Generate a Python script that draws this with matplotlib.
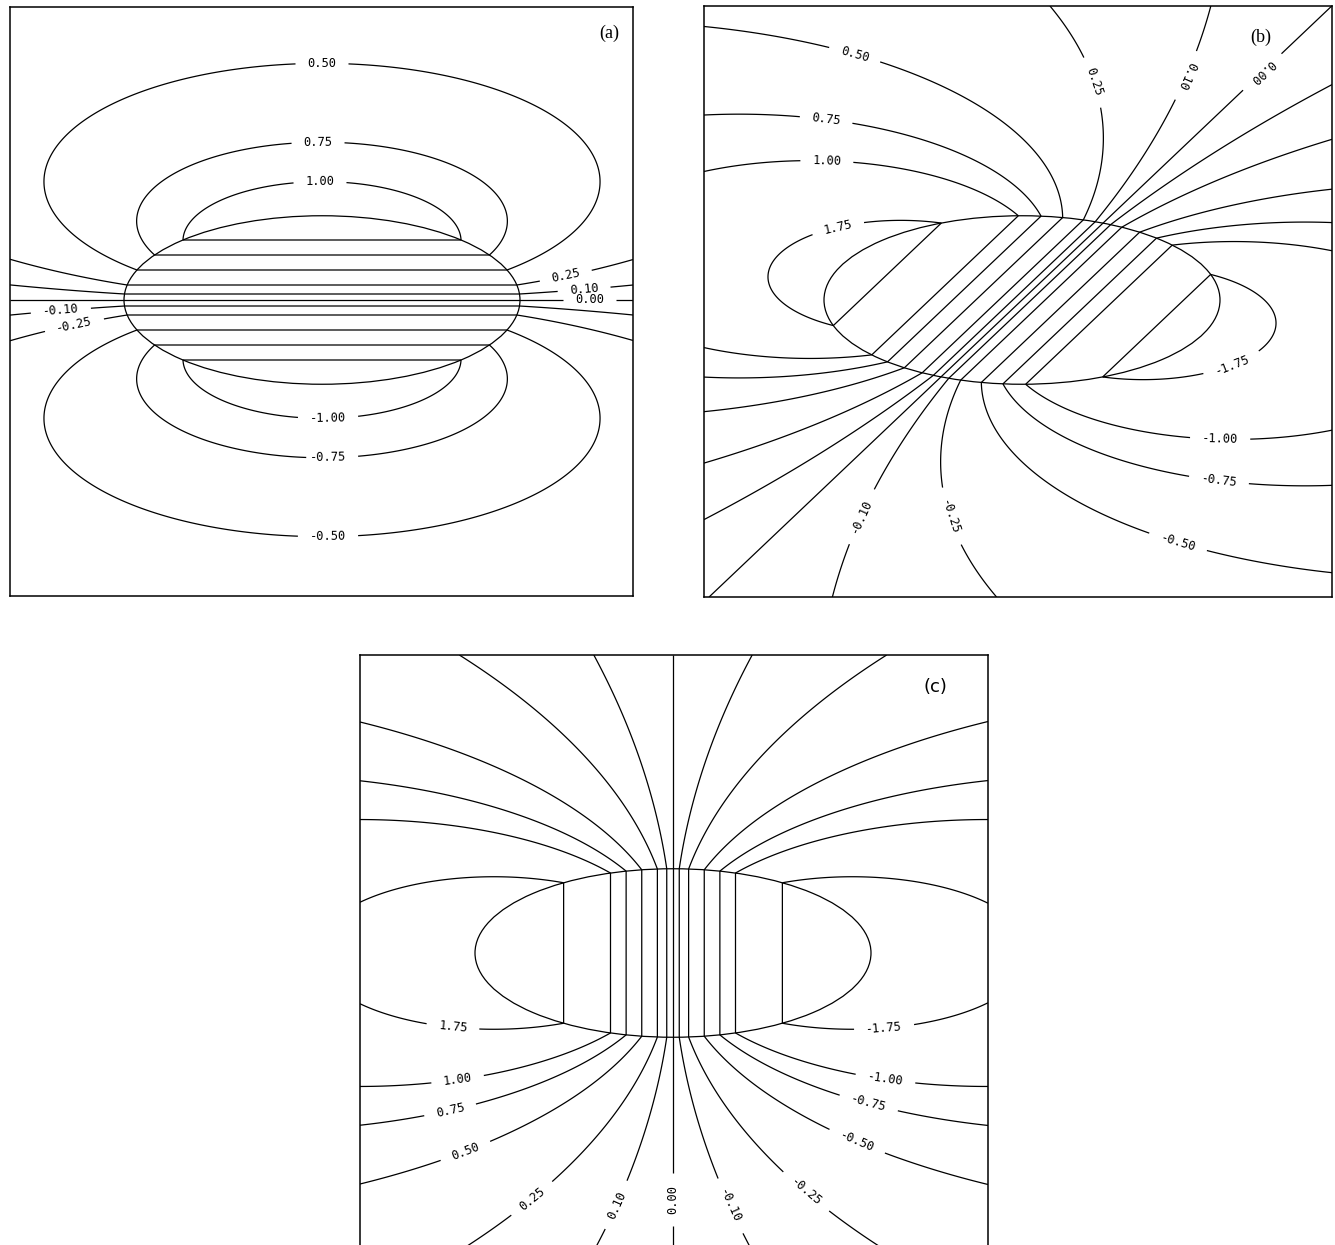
import numpy as np
import matplotlib.pyplot as plt
from matplotlib.patches import Ellipse

plt.rcParams['font.family'] = ['DejaVu Sans Mono']

# contour levels of the potential
levels = [-1.75, -1.00, -0.75, -0.50, -0.25, -0.10, 0.00,
          0.10, 0.25, 0.50, 0.75, 1.00, 1.75]

radius = 198.0   # half width of the section
squash = 2.35    # width / height of the section

# uniform gradient of the potential inside the section (per unit x, y)
grad_a = (0.0, 1 / 60.0)
grad_b = (-0.01082, 0.01140)
grad_c = (-1 / 62.5, 0.0)

# (level, x, y) where each contour gets its label
labels_a = [(0.50, 0, 238), (0.75, -4, 161), (1.00, -2, 118),
            (0.25, 243, 28), (0.10, 262, 12), (0.00, 268, 1),
            (-0.10, -261, -12), (-0.25, -248, -23),
            (-1.00, 6, -115), (-0.75, 6, -155), (-0.50, 6, -235)]
labels_b = [(0.50, -166, 250), (0.75, -195, 187), (1.00, -195, 143),
            (1.75, -185, 77), (0.25, 78, 220), (0.10, 170, 222),
            (0.00, 246, 222), (-1.75, 211, -67), (-1.00, 198, -144),
            (-0.75, 196, -188), (-0.50, 153, -252),
            (-0.10, -164, -215), (-0.25, -82, -220)]
labels_c = [(1.75, -220, -73), (1.00, -216, -122), (0.75, -224, -152),
            (0.50, -211, -189), (0.25, -144, -242), (0.10, -61, -250),
            (0.00, -7, -247), (-0.10, 53, -255), (-0.25, 137, -234),
            (-0.50, 186, -184), (-0.75, 196, -149), (-1.00, 213, -122),
            (-1.75, 211, -73)]
flipped_b = [0.10, 0.00]
flipped_c = [0.00]

W, H = 1335, 1245


def potential(x, y, g):
    r2 = x ** 2 + (squash * y) ** 2
    lin = g[0] * x + g[1] * y
    out = radius ** 2 * lin / np.maximum(r2, 1e-6)
    return np.where(r2 <= radius ** 2, lin, out)


def panel(box, xlim, ylim, grad, labels, tag, tagxy, flipped=(), tagfont='Liberation Serif'):
    left, top, right, bottom = box
    ax = fig.add_axes([left / W, 1 - bottom / H, (right - left) / W, (bottom - top) / H])
    x = np.linspace(xlim[0], xlim[1], 1000)
    y = np.linspace(ylim[0], ylim[1], 1000)
    X, Y = np.meshgrid(x, y)
    phi = potential(X, Y, grad)
    for lev in levels:
        cs = ax.contour(X, Y, phi, levels=[lev], colors='k', linewidths=0.9,
                        linestyles='solid')
        pos = [(px, py) for (l, px, py) in labels if l == lev]
        if pos:
            txt = ax.clabel(cs, [lev], manual=pos, inline=True, inline_spacing=12,
                            fmt='%.2f', fontsize=8.7)
            if lev in flipped:
                for t in txt:
                    t.set_rotation(t.get_rotation() + 180)
    ax.add_patch(Ellipse((0, 0), 2 * radius, 2 * radius / squash, fill=False,
                         lw=0.9, color='k'))
    ax.text(tagxy[0], tagxy[1], tag, family=tagfont, fontsize=13,
            ha='center', va='center')
    ax.set_xlim(xlim)
    ax.set_ylim(ylim)
    ax.set_xticks([])
    ax.set_yticks([])
    for s in ax.spines.values():
        s.set_linewidth(1.1)
    return ax


fig = plt.figure(figsize=(W / 100, H / 100), dpi=100)

panel((10, 7, 633, 596), (-312, 311), (-296, 293), grad_a, labels_a,
      '(a)', (287, 267))
panel((704, 6, 1332, 597), (-318, 310), (-297, 294), grad_b, labels_b,
      '(b)', (239, 263), flipped_b)
ax = panel((360, 655, 988, 1247), (-313, 315), (-294, 298), grad_c, labels_c,
           '(c)', (262, 266), flipped_c, tagfont='DejaVu Sans')
ax.spines['bottom'].set_visible(False)

fig.savefig('out.png', dpi=100)
